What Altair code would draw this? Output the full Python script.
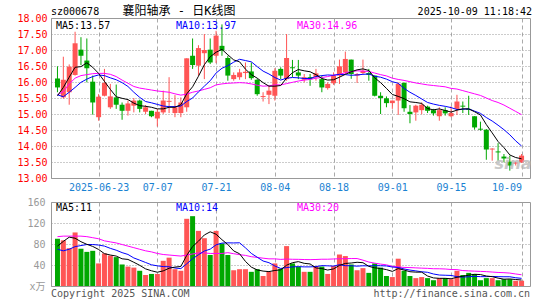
import altair as alt
import pandas as pd

# ---------------- data ----------------
opens = [16.11, 15.52, 15.68, 16.22, 17.01, 16.67, 16.01, 14.90, 15.57, 15.21,
         15.52, 15.29, 15.10, 15.26, 15.42, 15.07, 15.10, 14.86, 15.05, 15.38,
         15.03, 15.03, 15.21, 16.82, 16.51, 16.90, 17.01, 16.82, 17.13, 16.75,
         16.09, 16.15, 16.28, 16.33, 16.07, 15.53, 15.60, 15.57, 16.41, 16.09,
         16.46, 16.30, 16.07, 16.15, 16.15, 16.09, 15.81, 15.96, 16.20, 16.30,
         16.70, 16.20, 16.28, 16.28, 16.20, 15.57, 15.49, 15.34, 15.42, 15.97,
         15.07, 15.05, 15.12, 15.23, 15.12, 14.93, 15.12, 14.93, 15.16, 15.26,
         15.16, 14.93, 14.54, 14.51, 13.89, 13.83, 13.67, 13.51, 13.45, 13.49]
closes = [15.83, 16.07, 16.48, 17.21, 16.82, 16.43, 15.36, 15.54, 15.97, 15.55,
          15.29, 15.10, 15.33, 15.42, 15.16, 15.21, 14.93, 15.07, 15.42, 15.41,
          15.21, 15.36, 16.74, 16.53, 17.06, 17.00, 16.61, 17.45, 16.98, 16.20,
          16.22, 16.30, 16.32, 16.12, 15.62, 15.56, 15.73, 16.35, 16.20, 16.75,
          16.43, 16.20, 16.15, 16.09, 16.27, 15.83, 15.94, 16.20, 16.49, 16.72,
          16.25, 16.25, 16.35, 16.22, 15.57, 15.50, 15.34, 15.42, 15.94, 15.18,
          15.00, 15.26, 15.29, 15.10, 15.02, 15.12, 15.02, 15.03, 15.39, 15.23,
          15.13, 14.58, 14.51, 13.89, 13.92, 13.80, 13.61, 13.39, 13.48, 13.70]
highs = [16.49, 16.79, 16.55, 17.57, 17.40, 17.36, 16.20, 15.62, 16.41, 15.94,
         15.92, 15.36, 15.42, 15.50, 15.45, 15.28, 15.10, 15.16, 15.73, 16.15,
         15.59, 15.52, 16.74, 17.36, 17.15, 17.50, 17.36, 17.60, 17.80, 16.82,
         16.30, 16.41, 16.61, 16.61, 16.10, 15.68, 15.88, 16.43, 16.46, 17.50,
         16.69, 16.69, 16.25, 16.25, 16.41, 16.20, 15.99, 16.30, 16.70, 16.95,
         16.70, 16.28, 16.70, 16.41, 16.20, 15.68, 15.55, 15.42, 15.99, 15.99,
         15.28, 15.29, 15.36, 15.26, 15.16, 15.21, 15.21, 15.24, 15.60, 15.39,
         15.57, 14.93, 14.76, 14.53, 13.93, 14.09, 13.75, 13.70, 13.51, 13.75]
lows = [15.68, 15.48, 15.29, 16.20, 16.53, 15.99, 14.98, 14.79, 15.55, 15.16,
        15.16, 14.82, 14.95, 15.05, 15.05, 15.00, 14.90, 14.61, 15.00, 15.03,
        14.90, 14.90, 15.07, 16.41, 16.20, 16.09, 16.56, 16.59, 16.82, 16.04,
        16.04, 16.07, 16.09, 16.07, 15.57, 15.39, 15.31, 15.42, 16.09, 16.04,
        16.15, 16.09, 15.99, 15.88, 16.04, 15.68, 15.76, 15.91, 15.94, 16.25,
        16.10, 15.97, 16.25, 16.04, 15.55, 15.00, 15.21, 15.16, 14.97, 15.07,
        14.71, 14.79, 14.99, 15.03, 14.95, 14.79, 14.95, 14.90, 14.97, 15.03,
        14.97, 14.51, 14.48, 13.57, 13.54, 13.54, 13.49, 13.23, 13.39, 13.47]
ma5 = [15.57, 15.83, 16.15, 16.46, 16.48, 16.60, 16.46, 16.27, 16.02, 15.77,
       15.54, 15.49, 15.45, 15.34, 15.26, 15.24, 15.21, 15.16, 15.16, 15.21,
       15.21, 15.29, 15.63, 15.85, 16.18, 16.54, 16.79, 16.93, 17.02, 16.85,
       16.69, 16.63, 16.40, 16.23, 16.12, 15.98, 15.87, 15.87, 15.89, 16.12,
       16.29, 16.39, 16.35, 16.32, 16.23, 16.11, 16.06, 16.07, 16.15, 16.24,
       16.32, 16.38, 16.41, 16.36, 16.13, 15.98, 15.80, 15.61, 15.55, 15.48,
       15.38, 15.36, 15.33, 15.17, 15.13, 15.16, 15.11, 15.06, 15.12, 15.16,
       15.16, 15.07, 14.97, 14.67, 14.41, 14.14, 13.95, 13.72, 13.64, 13.60]
ma10 = [15.60, 15.54, 15.68, 15.83, 15.99, 16.09, 16.17, 16.22, 16.20, 16.13,
        16.07, 15.98, 15.86, 15.68, 15.52, 15.39, 15.35, 15.30, 15.25, 15.23,
        15.23, 15.25, 15.39, 15.50, 15.69, 15.87, 16.04, 16.28, 16.43, 16.51,
        16.62, 16.71, 16.67, 16.63, 16.48, 16.34, 16.25, 16.14, 16.06, 16.12,
        16.14, 16.13, 16.11, 16.11, 16.17, 16.20, 16.22, 16.21, 16.24, 16.23,
        16.21, 16.22, 16.24, 16.25, 16.18, 16.15, 16.09, 16.01, 15.96, 15.80,
        15.68, 15.58, 15.47, 15.36, 15.31, 15.27, 15.24, 15.20, 15.14, 15.15,
        15.16, 15.09, 15.02, 14.89, 14.78, 14.65, 14.51, 14.35, 14.16, 14.00]
ma30 = [15.60, 15.70, 15.94, 16.12, 16.20, 16.23, 16.26, 16.27, 16.27, 16.24,
        16.17, 16.06, 15.96, 15.86, 15.81, 15.78, 15.75, 15.72, 15.70, 15.68,
        15.63, 15.59, 15.62, 15.68, 15.72, 15.77, 15.82, 15.91, 15.94, 15.96,
        15.97, 15.98, 15.97, 15.94, 15.90, 15.87, 15.88, 15.91, 15.91, 15.95,
        15.99, 16.03, 16.06, 16.08, 16.12, 16.14, 16.17, 16.21, 16.24, 16.29,
        16.32, 16.35, 16.34, 16.33, 16.28, 16.23, 16.19, 16.12, 16.08, 16.05,
        16.01, 15.97, 15.94, 15.91, 15.89, 15.87, 15.85, 15.80, 15.78, 15.73,
        15.68, 15.63, 15.58, 15.50, 15.42, 15.36, 15.28, 15.18, 15.08, 14.98]
volumes = [90, 87, 72, 102, 71, 65, 67, 43, 62, 58,
           55, 41, 37, 35, 29, 21, 23, 23, 48, 54,
           32, 29, 128, 133, 105, 91, 59, 105, 81, 59,
           30, 32, 32, 27, 32, 19, 27, 43, 33, 76,
           43, 37, 27, 27, 38, 37, 23, 38, 60, 57,
           41, 30, 34, 25, 43, 35, 19, 17, 52, 29,
           19, 15, 17, 15, 11, 15, 15, 13, 29, 21,
           25, 23, 11, 15, 15, 11, 13, 13, 10, 10]
vma5 = [76, 85, 93, 91, 84.4, 79.4, 75.4, 69.6, 61.6, 59,
        57, 51.8, 50.6, 45.2, 39.4, 32.6, 29, 26.2, 28.8, 33.8,
        36, 37.2, 58.2, 75.2, 85.4, 97.2, 103.2, 98.6, 88.2, 79,
        66.8, 61.4, 46.8, 36, 30.6, 28.4, 27.4, 29.6, 30.8, 39.6,
        44.4, 46.4, 43.2, 42, 34.4, 33.2, 30.4, 32.6, 39.2, 43,
        43.8, 45.2, 44.4, 37.4, 34.6, 33.4, 31.2, 27.8, 33.2, 30.4,
        27.2, 26.4, 26.4, 19, 15.4, 14.6, 14.6, 13.8, 16.6, 18.6,
        20.6, 22.2, 21.8, 19, 17.8, 15, 13, 13.4, 12.4, 11.4]
vma10 = [70, 67, 70, 75, 77, 79, 79, 78, 76, 71.7,
         68.2, 63.6, 60.1, 53.4, 49.2, 44.8, 40.4, 38.4, 37, 36.6,
         34.3, 33.1, 42.2, 52, 59.6, 66.6, 70.2, 78.4, 81.7, 82.2,
         82, 82.3, 72.7, 62.1, 54.8, 47.6, 44.4, 38.2, 33.4, 35.1,
         36.4, 36.9, 36.4, 36.4, 37, 38.8, 38.4, 37.9, 40.6, 38.7,
         38.5, 37.8, 38.5, 38.3, 38.8, 38.6, 38.2, 36.1, 35.3, 32.5,
         30.3, 28.8, 27.1, 26.1, 22.9, 20.9, 20.5, 20.1, 17.8, 17,
         17.6, 18.4, 17.8, 17.8, 18.2, 17.8, 17.6, 17.6, 15.7, 14.6]
vma30 = [94, 95, 95, 95, 95, 94, 92, 90, 86, 84,
         82, 79, 76, 73, 70, 67, 65, 62, 60, 59,
         58, 57, 59, 61, 63, 63, 62, 62, 62, 63.5,
         61.5, 59.7, 58.3, 55.8, 54.5, 53, 51.7, 51.7, 50.7, 51.3,
         50.9, 50.8, 50.4, 50.2, 50.5, 51, 51, 51.5, 51.9, 52,
         52.3, 52.3, 49.2, 45.6, 43.5, 41.7, 40.3, 37.4, 36.4, 35.4,
         35.1, 34.5, 34, 33.6, 32.9, 32.8, 32.4, 31.4, 31.2, 29.4,
         28.8, 28.3, 27.8, 27.4, 26.6, 25.8, 25.4, 24.6, 22.9, 21.4]

tick_idx = [7, 17, 27, 37, 47, 57, 67, 79]
tick_lbl = ["2025-06-23", "07-07", "07-21", "08-04", "08-18", "09-01", "09-15", "10-09"]
price_ticks = [13.0, 13.5, 14.0, 14.5, 15.0, 15.5, 16.0, 16.5, 17.0, 17.5, 18.0]
vol_ticks = [0, 40, 80, 120, 160]
price_ma_text = ["MA5:13.57", "MA10:13.97", "MA30:14.96"]
vol_ma_text = ["MA5:11", "MA10:14", "MA30:20"]
header = ["sz000678", "襄阳轴承 - 日K线图", "2025-10-09 11:18:42"]
footer = ["Copyright 2025 SINA.COM", "http://finance.sina.com.cn"]

# ---------------- styling ----------------
UP = "#ff5555"
DOWN = "#00a800"
MONO = "'DejaVu Sans Mono', 'Noto Sans CJK SC', monospace"
W = 479
PH = 160
VH = 84

df = pd.DataFrame({
    "i": list(range(len(closes))),
    "o": opens, "c": closes, "h": highs, "l": lows, "v": volumes,
    "ma5": ma5, "ma10": ma10, "ma30": ma30,
    "vma5": vma5, "vma10": vma10, "vma30": vma30,
})
df["dir"] = ["up" if c >= o else "down" for o, c in zip(opens, closes)]

color = alt.Color("dir:N", scale=alt.Scale(domain=["up", "down"], range=[UP, DOWN]), legend=None)
xscale = alt.Scale(domain=[-0.25, 79.5833], nice=False, zero=False)

label_expr = ""
for k, s in zip(tick_idx, tick_lbl):
    label_expr += f"datum.value == {k} ? '{s}' : "
label_expr += "''"

x_price = alt.X("i:Q", scale=xscale, title=None, axis=alt.Axis(
    values=tick_idx, labelExpr=label_expr, labelColor="#1a82d2", labelFont=MONO,
    labelFontSize=10, ticks=False, domain=False, grid=True, gridColor="#aaaaaa",
    gridDash=[4, 3], labelPadding=4, labelOverlap=False,
    labelAlign={"condition": {"test": "datum.value == 79", "value": "right"}, "value": "center"}))
x_vol = alt.X("i:Q", scale=xscale, title=None, axis=alt.Axis(
    values=tick_idx, labels=False, ticks=False, domain=False, grid=True,
    gridColor="#aaaaaa", gridDash=[4, 3]))

yscale_p = alt.Scale(domain=[13, 18], nice=False, zero=False)
yaxis_p = alt.Axis(values=price_ticks, format=".2f", labelColor="#ff0000", labelFont=MONO,
                   labelFontSize=10, ticks=False, domain=False, gridColor="#999999",
                   gridDash=[1, 2], labelPadding=4, title=None)
yscale_v = alt.Scale(domain=[0, 160], nice=False)
yaxis_v = alt.Axis(values=vol_ticks, labelExpr="datum.value == 0 ? 'x万' : datum.label",
                   labelColor="#999999", labelFont=MONO, labelFontSize=10, ticks=False,
                   domain=False, gridColor="#999999", gridDash=[1, 2], labelPadding=6, title=None)


def text_layer(text, x, y, col, size=10, align="left", font=MONO, **kw):
    return alt.Chart(pd.DataFrame({"t": [text]})).mark_text(
        align=align, baseline="middle", font=font, fontSize=size, color=col, **kw
    ).encode(x=alt.value(x), y=alt.value(y), text="t:N")


pbase = alt.Chart(df).encode(x=x_price)
wick = pbase.mark_rule(strokeWidth=1).encode(
    y=alt.Y("l:Q", scale=yscale_p, axis=yaxis_p), y2="h:Q", color=color)
body = pbase.mark_bar(size=5).encode(
    y=alt.Y("o:Q", scale=yscale_p, axis=yaxis_p), y2="c:Q", color=color)
lines_p = [
    pbase.mark_line(color=c, strokeWidth=1).encode(y=alt.Y(f"{f}:Q", scale=yscale_p, axis=yaxis_p))
    for f, c in [("ma30", "#ff00ff"), ("ma10", "#0000ff"), ("ma5", "#000000")]
]
anchor = alt.Chart(pd.DataFrame({"a": [0]})).mark_rule(color="white", strokeWidth=1).encode(
    x=alt.value(-50), x2=alt.value(-49), y=alt.value(-17), y2=alt.value(-16))

price_texts = [
    text_layer(price_ma_text[0], 5, 8, "#000000"),
    text_layer(price_ma_text[1], 125, 8, "#0000ff"),
    text_layer(price_ma_text[2], 246, 8, "#ff00ff"),
    text_layer(header[0], 0, -6, "#000000"),
    text_layer(header[1], 128, -7, "#000000", size=12, align="center"),
    text_layer(header[2], 481, -6, "#000000", align="right"),
    text_layer("sina", 462, 146, "#bbbbbb", size=16, align="center",
               font="'DejaVu Sans', sans-serif", fontStyle="italic", fontWeight="bold", opacity=0.8),
]

price = alt.layer(anchor, wick, body, *lines_p, *price_texts).properties(width=W, height=PH)

vbase = alt.Chart(df).encode(x=x_vol)
vbars = vbase.mark_bar(size=5).encode(y=alt.Y("v:Q", scale=yscale_v, axis=yaxis_v), color=color)
lines_v = [
    vbase.mark_line(color=c, strokeWidth=1).encode(y=alt.Y(f"{f}:Q", scale=yscale_v, axis=yaxis_v))
    for f, c in [("vma30", "#ff00ff"), ("vma10", "#0000ff"), ("vma5", "#000000")]
]
vol_texts = [
    text_layer(vol_ma_text[0], 5, 6, "#000000"),
    text_layer(vol_ma_text[1], 125, 6, "#0000ff"),
    text_layer(vol_ma_text[2], 246, 6, "#ff00ff"),
    text_layer(footer[0], 0, 92, "#555555"),
    text_layer(footer[1], 479, 92, "#555555", align="right"),
]
volume = alt.layer(vbars, *lines_v, *vol_texts).properties(width=W, height=VH)

chart = alt.vconcat(price, volume, spacing=24, bounds="flush").properties(
    padding=0, background="white"
).configure_view(stroke="#999999", strokeWidth=1)

chart.save("out.html", embed_options={"renderer": "svg", "actions": False})
